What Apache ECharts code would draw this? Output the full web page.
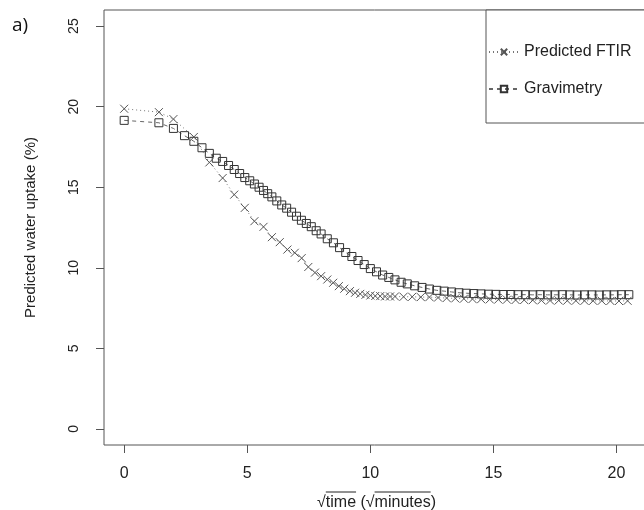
<!DOCTYPE html>
<html>
<head>
<meta charset="utf-8">
<script src="https://cdn.jsdelivr.net/npm/echarts@6/dist/echarts.min.js"></script>
<style>
  html, body { margin: 0; padding: 0; background: #fff; }
  #chart { width: 644px; height: 510px; }
</style>
</head>
<body>
<div id="chart"></div>
<script>
// Water uptake over square-root time: gravimetric measurement vs FTIR prediction
const gravX = [0, 1.41, 2.0, 2.45, 2.83, 3.16, 3.46, 3.74, 4.0, 4.24, 4.47, 4.69, 4.9, 5.1, 5.29, 5.48, 5.66, 5.83,
  6.0, 6.2, 6.4, 6.6, 6.8, 7.0, 7.2, 7.4, 7.6, 7.8, 8.0, 8.25, 8.5, 8.75, 9.0, 9.25, 9.5, 9.75, 10.0, 10.25, 10.5,
  10.75, 11.0, 11.25, 11.5, 11.8, 12.1, 12.4, 12.7, 13.0, 13.3, 13.6, 13.9, 14.2, 14.5, 14.8, 15.1, 15.4, 15.7,
  16.0, 16.3, 16.6, 16.9, 17.2, 17.5, 17.8, 18.1, 18.4, 18.7, 19.0, 19.3, 19.6, 19.9, 20.2, 20.5];
const gravY = [19.15, 19.0, 18.65, 18.2, 17.85, 17.45, 17.1, 16.8, 16.6, 16.35, 16.1, 15.85, 15.6, 15.4, 15.2, 15.0, 14.8, 14.6,
  14.4, 14.15, 13.9, 13.7, 13.45, 13.2, 12.95, 12.75, 12.55, 12.3, 12.1, 11.8, 11.55, 11.25, 10.95, 10.7, 10.45, 10.2, 9.95, 9.75, 9.55,
  9.4, 9.25, 9.1, 9.0, 8.88, 8.78, 8.68, 8.6, 8.55, 8.5, 8.45, 8.42, 8.4, 8.38, 8.36, 8.35, 8.34, 8.34,
  8.33, 8.33, 8.32, 8.33, 8.32, 8.32, 8.33, 8.32, 8.31, 8.32, 8.32, 8.31, 8.32, 8.32, 8.33, 8.33];

const ftirX = [0, 1.41, 2.0, 2.83, 3.46, 4.0, 4.47, 4.9, 5.29, 5.66, 6.0, 6.32, 6.63, 6.93, 7.21, 7.48, 7.75, 8.0, 8.25,
  8.49, 8.72, 8.94, 9.17, 9.38, 9.59, 9.8, 10.0, 10.2, 10.4, 10.6, 10.8, 11.0, 11.35, 11.7, 12.05, 12.4, 12.75, 13.1,
  13.45, 13.8, 14.15, 14.5, 14.85, 15.2, 15.55, 15.9, 16.25, 16.6, 16.95, 17.3, 17.65, 18.0, 18.35, 18.7, 19.05, 19.4,
  19.75, 20.1, 20.45];
const ftirY = [19.87, 19.66, 19.23, 18.12, 16.54, 15.57, 14.54, 13.72, 12.89, 12.54, 11.9, 11.59, 11.13, 10.93, 10.6, 10.05, 9.7, 9.48, 9.27,
  9.07, 8.86, 8.7, 8.55, 8.45, 8.38, 8.32, 8.28, 8.25, 8.24, 8.22, 8.22, 8.22, 8.2, 8.2, 8.18, 8.18, 8.15, 8.12,
  8.1, 8.08, 8.06, 8.05, 8.04, 8.03, 8.02, 8.0, 8.0, 7.99, 7.98, 7.97, 7.97, 7.96, 7.96, 7.95, 7.95, 7.95,
  7.94, 7.94, 7.95];

const xTicks = [0, 5, 10, 15, 20];
const yTicks = [0, 5, 10, 15, 20, 25];

const seriesNames = ['Predicted FTIR', 'Gravimetry'];
const xTitle = '\u221Atime (\u221Aminutes)';
const yTitle = 'Predicted water uptake (%)';
const panelTag = 'a)';

const FONT = '"Liberation Sans", Arial, sans-serif';
const TITLE_SIZE = 16;
const X_MIN = -0.82, X_MAX = 21.32;
const crossPath = 'path://M0,0L10,10M10,0L0,10';

function pairs(xs, ys) { return xs.map((x, i) => [x, ys[i]]); }

const chart = echarts.init(document.getElementById('chart'), null, { renderer: 'canvas' });

const axisCommon = {
  type: 'value',
  axisLine: { show: false, onZero: false },
  splitLine: { show: false },
  axisTick: { show: true, inside: false, length: 8, lineStyle: { color: '#555', width: 1 } }
};

const panelTagGraphic = {
  type: 'text', left: 12, top: 16,
  style: { text: panelTag, fontSize: 19, fill: '#111', fontFamily: '"Open Sans", Lato, sans-serif' }
};

chart.setOption({
  backgroundColor: '#fff',
  animation: false,
  grid: {
    left: 104, top: 10, width: 545, height: 435, show: true, borderColor: '#555', borderWidth: 1,
    containLabel: false, outerBoundsMode: 'none'
  },
  xAxis: Object.assign({}, axisCommon, {
    min: X_MIN, max: X_MAX,
    axisTick: Object.assign({}, axisCommon.axisTick, { customValues: xTicks }),
    axisLabel: { customValues: xTicks, margin: 21, fontSize: 16, color: '#222', fontFamily: FONT },
    name: xTitle, nameLocation: 'middle', nameGap: 50,
    nameTextStyle: { fontSize: TITLE_SIZE, color: '#222', fontFamily: FONT }
  }),
  yAxis: Object.assign({}, axisCommon, {
    min: -1, max: 26,
    axisTick: Object.assign({}, axisCommon.axisTick, { customValues: yTicks }),
    axisLabel: { customValues: yTicks, rotate: 90, margin: 23, fontSize: 14, color: '#222', fontFamily: FONT },
    name: yTitle, nameLocation: 'middle', nameGap: 66, nameRotate: 90,
    nameTextStyle: { fontSize: 15, color: '#222', fontFamily: FONT }
  }),
  legend: {
    orient: 'vertical', left: 486, top: 10,
    padding: [34, 60, 26, 2], itemGap: 21, itemWidth: 30, itemHeight: 8,
    borderColor: '#555', borderWidth: 1, backgroundColor: '#fff',
    textStyle: { fontSize: 16, color: '#222', fontFamily: FONT },
    data: seriesNames
  },
  graphic: [panelTagGraphic],
  series: [
    {
      name: seriesNames[0], type: 'line', data: pairs(ftirX, ftirY),
      symbol: crossPath, symbolSize: 8,
      itemStyle: { color: 'rgba(0,0,0,0)', borderColor: '#555', borderWidth: 1 },
      lineStyle: { color: '#777', width: 1, type: [1, 3] },
      z: 3
    },
    {
      name: seriesNames[1], type: 'line', data: pairs(gravX, gravY),
      symbol: 'rect', symbolSize: 8,
      itemStyle: { color: 'rgba(0,0,0,0)', borderColor: '#333', borderWidth: 1 },
      lineStyle: { color: '#666', width: 1, type: [4, 4] },
      z: 2
    }
  ]
});

// Overlines for the square-root signs in the x-axis title
(function addOverlines() {
  const ctx = document.createElement('canvas').getContext('2d');
  ctx.font = TITLE_SIZE + 'px ' + FONT;
  const w = s => ctx.measureText(s).width;
  const full = w(xTitle);
  const left = chart.convertToPixel({ gridIndex: 0 }, [X_MIN, 0])[0];
  const right = chart.convertToPixel({ gridIndex: 0 }, [X_MAX, 0])[0];
  const bottom = chart.convertToPixel({ gridIndex: 0 }, [0, -1])[1];
  const start = (left + right) / 2 - full / 2;
  const yLine = bottom + 47;
  const t0 = start + w('\u221A'), t1 = start + w('\u221Atime');
  const m0 = start + w('\u221Atime (\u221A'), m1 = start + w('\u221Atime (\u221Aminutes');
  chart.setOption({
    graphic: [
      panelTagGraphic,
      { type: 'line', shape: { x1: t0, y1: yLine, x2: t1, y2: yLine }, style: { stroke: '#222', lineWidth: 1 } },
      { type: 'line', shape: { x1: m0, y1: yLine, x2: m1, y2: yLine }, style: { stroke: '#222', lineWidth: 1 } }
    ]
  }, { replaceMerge: ['graphic'] });
})();
</script>
</body>
</html>
